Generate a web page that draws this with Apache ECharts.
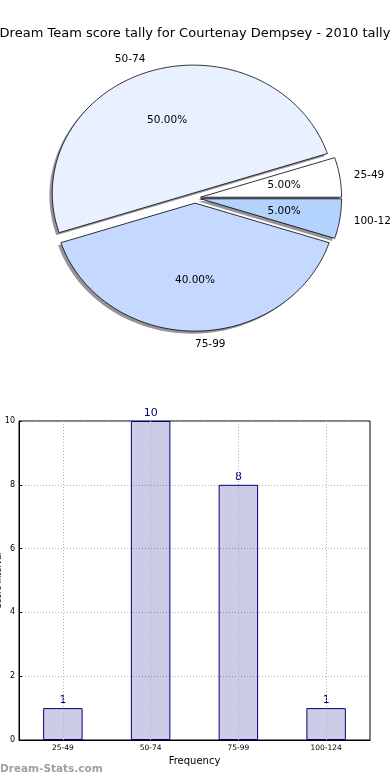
<!DOCTYPE html>
<html>
<head>
<meta charset="utf-8">
<script src="https://cdn.jsdelivr.net/npm/echarts@6/dist/echarts.min.js"></script>
<style>html,body{margin:0;padding:0;background:#fff}#c{width:390px;height:780px}</style>
</head>
<body>
<div id="c"></div>
<script>
const chartTitle = 'Dream Team score tally for Courtenay Dempsey - 2010 tally';
const categories = ['25-49', '50-74', '75-99', '100-124'];
const counts = [1, 10, 8, 1];
const yAxisName = 'Score Interval';
const xAxisName = 'Frequency';
const watermark = 'Dream-Stats.com';

const pieColors = ['#ffffff', '#e9f0ff', '#c5d8ff', '#b3d3ff'];
const PIE = { cx: 195, cy: 198, rx: 141, ry: 128, explode: 0.04, pct: 0.6, lab: 1.1 };
const total = counts.reduce((a, b) => a + b, 0);

function wedgeGeom(i) {
  let before = 0;
  for (let k = 0; k < i; k++) before += counts[k];
  const s = before / total * Math.PI * 2;
  const e = (before + counts[i]) / total * Math.PI * 2;
  const mid = (s + e) / 2;
  const ox = PIE.cx + PIE.explode * PIE.rx * Math.cos(mid);
  const oy = PIE.cy - PIE.explode * PIE.ry * Math.sin(mid);
  const pts = [[ox, oy]];
  const n = Math.max(4, Math.ceil((e - s) / (Math.PI / 180)));
  for (let j = 0; j <= n; j++) {
    const a = s + (e - s) * j / n;
    pts.push([ox + PIE.rx * Math.cos(a), oy - PIE.ry * Math.sin(a)]);
  }
  return { s, e, mid, ox, oy, pts };
}

const chart = echarts.init(document.getElementById('c'), null, { renderer: 'canvas' });
const option = {
  animation: false,
  textStyle: { fontFamily: 'DejaVu Sans' },
  title: {
    text: chartTitle, left: 'center', top: 22,
    textStyle: { fontSize: 13, fontWeight: 'normal', color: '#000', fontFamily: 'DejaVu Sans' }
  },
  graphic: [{
    type: 'text', left: 0, top: 764,
    style: { text: watermark, fill: '#a0a0a0', font: 'bold 10.5px "DejaVu Sans"' }
  }],
  grid: { left: 19, right: 20, top: 421, bottom: 40, show: true, borderColor: '#000', borderWidth: 1,
          containLabel: false, outerBoundsMode: 'none' },
  xAxis: {
    type: 'category', data: categories,
    name: xAxisName, nameLocation: 'middle', nameGap: 16,
    nameTextStyle: { fontSize: 10, color: '#000' },
    axisLine: { lineStyle: { color: '#000', width: 1 } },
    axisTick: { show: false },
    axisLabel: { fontSize: 7.5, color: '#000', margin: 4 },
    splitLine: { show: false }
  },
  yAxis: {
    type: 'value', min: 0, max: 10, interval: 2,
    name: yAxisName, nameLocation: 'middle', nameGap: 16, nameRotate: 90, nameMoveOverlap: false,
    nameTextStyle: { fontSize: 8, color: '#000' },
    axisLine: { show: true, lineStyle: { color: '#000', width: 1 } },
    axisTick: { show: true, inside: true, length: 3, lineStyle: { color: '#000' } },
    axisLabel: { fontSize: 8, color: '#000', margin: 4 },
    splitLine: { show: true, lineStyle: { color: '#b0b0b0', type: [1, 2], width: 1 } }
  },
  series: [
    {
      type: 'bar', data: counts, barWidth: '45%', z: 2,
      itemStyle: { color: 'rgba(0,0,128,0.2)', borderColor: '#000080', borderWidth: 1 },
      label: { show: true, position: 'top', color: '#000080', fontSize: 11, distance: 2 },
      markLine: {
        silent: true, symbol: 'none', label: { show: false },
        lineStyle: { color: '#b0b0b0', type: [1, 2], width: 1 },
        data: categories.map(c => ({ xAxis: c }))
      }
    },
    {
      type: 'custom', coordinateSystem: 'none', z: 1, silent: true,
      data: counts.map((v, i) => [v, i]),
      renderItem: function (params) {
        const g = wedgeGeom(params.dataIndex);
        const dx = -0.02 * PIE.rx, dy = 0.02 * PIE.ry;
        return {
          type: 'polygon',
          shape: { points: g.pts.map(p => [p[0] + dx, p[1] + dy]) },
          style: { fill: 'rgba(60,60,70,0.55)' }
        };
      }
    },
    {
      type: 'custom', coordinateSystem: 'none', z: 3, silent: true,
      data: counts.map((v, i) => [v, i]),
      renderItem: function (params) {
        const i = params.dataIndex;
        const g = wedgeGeom(i);
        const c = Math.cos(g.mid), s = Math.sin(g.mid);
        const px = g.ox + PIE.pct * PIE.rx * c, py = g.oy - PIE.pct * PIE.ry * s;
        const lx = g.ox + PIE.lab * PIE.rx * c, ly = g.oy - PIE.lab * PIE.ry * s;
        const pctText = (counts[i] / total * 100).toFixed(2) + '%';
        return {
          type: 'group',
          children: [
            {
              type: 'polygon', shape: { points: g.pts },
              style: { fill: pieColors[i], stroke: '#000', lineWidth: 0.8 }
            },
            {
              type: 'text', z2: 10,
              style: { text: pctText, x: px, y: py, align: 'center', verticalAlign: 'middle',
                       fill: '#000', fontSize: 10.5, fontFamily: 'DejaVu Sans' }
            },
            {
              type: 'text', z2: 10,
              style: { text: categories[i], x: lx, y: ly, align: c < -0.001 ? 'right' : 'left',
                       verticalAlign: 'middle', fill: '#000', fontSize: 10.5, fontFamily: 'DejaVu Sans' }
            }
          ]
        };
      }
    }
  ]
};
chart.setOption(option);
</script>
</body>
</html>
